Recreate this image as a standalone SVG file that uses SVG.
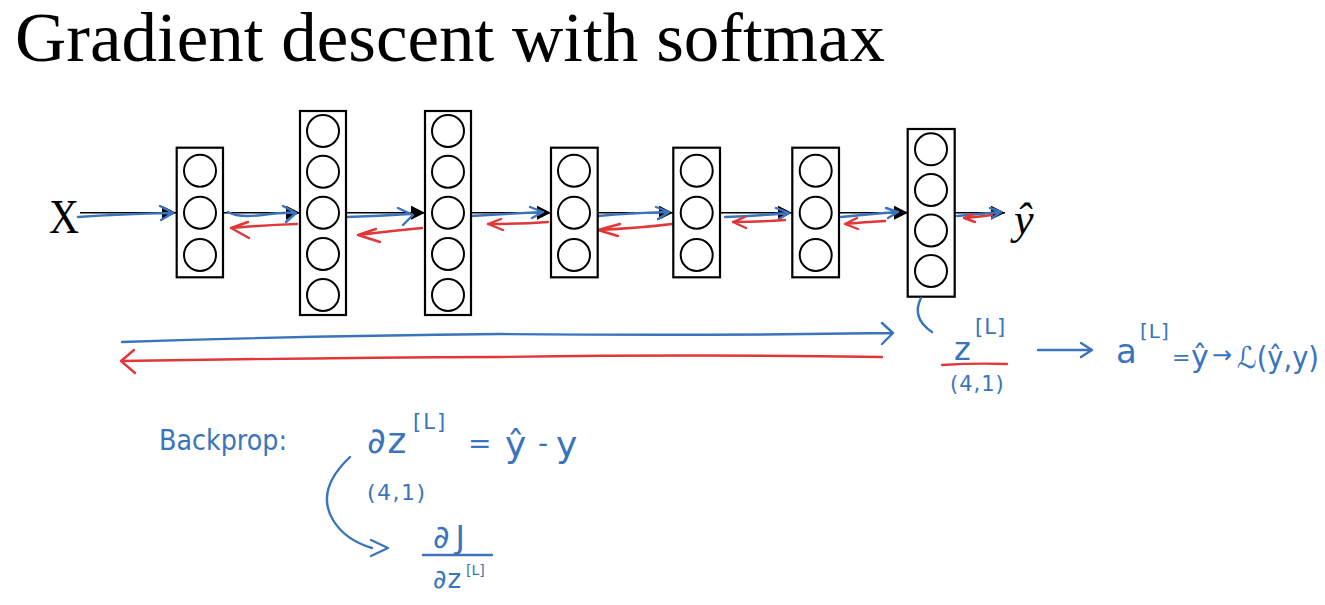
<svg xmlns="http://www.w3.org/2000/svg" width="1325" height="605" viewBox="0 0 1325 605">
<defs>
<style>
.box{fill:#fff;stroke:#000;stroke-width:2.2}
.nd{fill:#fff;stroke:#000;stroke-width:2}
.blk{stroke:#000;stroke-width:1.6;fill:none}
.bl{stroke:#3a74bd;stroke-width:2.4;fill:none;stroke-linecap:round;stroke-linejoin:round}
.rd{stroke:#e0383a;stroke-width:2.4;fill:none;stroke-linecap:round;stroke-linejoin:round}
.ser{font-family:"Liberation Serif","Times New Roman",serif;fill:#000}
.hw{font-family:"DejaVu Sans","Liberation Sans",sans-serif;fill:#3a74bd}
</style>
<marker id="ah" markerUnits="userSpaceOnUse" markerWidth="16" markerHeight="14" refX="14" refY="7" orient="auto">
<path d="M0,0 L14,7 L0,14 Z" fill="#000"/>
</marker>
</defs>
<rect width="1325" height="605" fill="#fff"/>
<text class="ser" x="15" y="61" font-size="70" textLength="870" lengthAdjust="spacingAndGlyphs">Gradient descent with softmax</text>

<g id="input"><text class="ser" x="49" y="233" font-size="48" textLength="30" lengthAdjust="spacingAndGlyphs">X</text></g>
<g id="output"><text class="ser" x="1014" y="234" font-size="44" font-style="italic">ŷ</text></g>

<g id="connectors">
<line class="blk" x1="80" y1="212.7" x2="176" y2="212.7" marker-end="url(#ah)"/>
<line class="blk" x1="223" y1="212.7" x2="300" y2="212.7" marker-end="url(#ah)"/>
<line class="blk" x1="346" y1="212.7" x2="425" y2="212.7" marker-end="url(#ah)"/>
<line class="blk" x1="471" y1="212.7" x2="551" y2="212.7" marker-end="url(#ah)"/>
<line class="blk" x1="598" y1="212.7" x2="673" y2="212.7" marker-end="url(#ah)"/>
<line class="blk" x1="720" y1="212.7" x2="792" y2="212.7" marker-end="url(#ah)"/>
<line class="blk" x1="839" y1="212.7" x2="908" y2="212.7" marker-end="url(#ah)"/>
<line class="blk" x1="955" y1="212.7" x2="1005" y2="212.7" marker-end="url(#ah)"/>
</g>

<g id="forward-strokes">
<path class="bl" d="M78,217 Q120,214 172,213 M160,206 L173,213 L161,220"/>
<path class="bl" d="M228,212 Q238,218 262,215 Q285,212 295,213 M283,206 L296,213 L286,222"/>
<path class="bl" d="M347,217 Q380,216 410,214 M398,208 L413,215 L403,225"/>
<path class="bl" d="M471,216 Q505,214 542,212 M530,207 L543,212 L532,218"/>
<path class="bl" d="M598,216 Q630,213 668,212 M656,207 L669,212 L658,219"/>
<path class="bl" d="M725,217 Q755,216 788,213 M776,208 L789,213 L779,219"/>
<path class="bl" d="M841,217 Q870,214 897,212 M886,208 L898,212 L888,218"/>
<path class="bl" d="M957,216 Q980,214 1000,212 M990,208 L1001,212 L992,218"/>
</g>

<g id="backward-strokes">
<path class="rd" d="M297,224 Q265,225 231,228 M248,222 L231,228 L249,238"/>
<path class="rd" d="M422,228 Q390,231 358,235 M376,229 L358,235 L380,242"/>
<path class="rd" d="M548,222 Q520,224 488,224 M501,219 L488,224 L503,230"/>
<path class="rd" d="M672,224 Q640,228 598,230 M620,224 L598,230 L618,236"/>
<path class="rd" d="M785,220 Q760,222 733,222 M745,217 L733,222 L746,228"/>
<path class="rd" d="M885,221 Q865,222 845,224 M857,218 L845,224 L858,229"/>
<path class="rd" d="M992,215 Q978,217 964,218 M973,214 L964,218 L975,222"/>
</g>

<g id="layer1">
<rect class="box" x="176.7" y="147.7" width="46.3" height="129.6"/>
<circle class="nd" cx="200" cy="170.7" r="16"/>
<circle class="nd" cx="200" cy="212.7" r="16"/>
<circle class="nd" cx="200" cy="255" r="16"/>
</g>
<g id="layer2">
<rect class="box" x="300" y="111" width="46" height="204"/>
<circle class="nd" cx="323" cy="131" r="16"/>
<circle class="nd" cx="323" cy="171.7" r="16"/>
<circle class="nd" cx="323" cy="212.7" r="16"/>
<circle class="nd" cx="323" cy="254" r="16"/>
<circle class="nd" cx="323" cy="295" r="16"/>
</g>
<g id="layer3">
<rect class="box" x="425" y="111" width="46" height="204"/>
<circle class="nd" cx="448" cy="131" r="16"/>
<circle class="nd" cx="448" cy="171.7" r="16"/>
<circle class="nd" cx="448" cy="212.7" r="16"/>
<circle class="nd" cx="448" cy="254" r="16"/>
<circle class="nd" cx="448" cy="295" r="16"/>
</g>
<g id="layer4">
<rect class="box" x="551" y="147.7" width="46.7" height="129.6"/>
<circle class="nd" cx="574" cy="170.7" r="16"/>
<circle class="nd" cx="574" cy="212.7" r="16"/>
<circle class="nd" cx="574" cy="255" r="16"/>
</g>
<g id="layer5">
<rect class="box" x="673.3" y="147.7" width="46.7" height="129.6"/>
<circle class="nd" cx="696.7" cy="170.7" r="16"/>
<circle class="nd" cx="696.7" cy="212.7" r="16"/>
<circle class="nd" cx="696.7" cy="255" r="16"/>
</g>
<g id="layer6">
<rect class="box" x="792.3" y="147.7" width="46.7" height="129.6"/>
<circle class="nd" cx="815.7" cy="170.7" r="16"/>
<circle class="nd" cx="815.7" cy="212.7" r="16"/>
<circle class="nd" cx="815.7" cy="255" r="16"/>
</g>
<g id="layer7">
<rect class="box" x="907.7" y="129" width="47" height="167.7"/>
<circle class="nd" cx="931" cy="149.3" r="16"/>
<circle class="nd" cx="931" cy="190" r="16"/>
<circle class="nd" cx="931" cy="230.5" r="16"/>
<circle class="nd" cx="931" cy="271" r="16"/>
</g>

<g id="forward-pass">
<path class="bl" d="M122,342 Q300,336 500,334 Q700,336 891,333 M882,323 L893,333 L882,344"/>
</g>
<g id="backward-pass">
<path class="rd" d="M882,357 Q700,354 500,357 Q300,358 122,361 M134,350 L121,361 L135,373"/>
</g>

<g id="output-annotation">
<path class="bl" d="M921,298 Q911,318 932,332"/>
<text class="hw" x="954" y="360" font-size="32">z</text>
<text class="hw" x="975" y="334" font-size="21" letter-spacing="1">[L]</text>
<path class="rd" d="M942,365 Q975,363 1007,364"/>
<text class="hw" x="950" y="391" font-size="21" letter-spacing="1">(4,1)</text>
<path class="bl" d="M1038,350 L1091,350 M1081,343 L1092,350 L1081,357"/>
<text class="hw" x="1116" y="363" font-size="34">a</text>
<text class="hw" x="1140" y="338" font-size="20" letter-spacing="1">[L]</text>
<text class="hw" x="1172" y="365" font-size="22">=</text>
<text class="hw" x="1191" y="367" font-size="30">ŷ</text>
<text class="hw" x="1212" y="363" font-size="24">→</text>
<text class="hw" x="1237" y="368" font-size="30" textLength="82" lengthAdjust="spacingAndGlyphs">ℒ(ŷ,y)</text>
</g>

<g id="backprop-annotation">
<text class="hw" x="159" y="450" font-size="28" textLength="128" lengthAdjust="spacingAndGlyphs">Backprop:</text>
<text class="hw" x="367" y="453" font-size="36" letter-spacing="2">∂z</text>
<text class="hw" x="413" y="429" font-size="21" letter-spacing="2">[L]</text>
<text class="hw" x="468" y="453" font-size="28">=</text>
<text class="hw" x="505" y="457" font-size="36">ŷ</text>
<text class="hw" x="538" y="453" font-size="28">-</text>
<text class="hw" x="556" y="457" font-size="36">y</text>
<text class="hw" x="367" y="500" font-size="22" letter-spacing="1.5">(4,1)</text>
<path class="bl" d="M350,457 Q315,490 333,520 Q345,540 372,548 M371,540 L388,548 L371,556"/>
<text class="hw" x="433" y="548" font-size="32" letter-spacing="6">∂J</text>
<path class="bl" d="M423,555 L492,555"/>
<text class="hw" x="433" y="588" font-size="26" letter-spacing="1">∂z</text>
<text class="hw" x="466" y="575" font-size="14">[L]</text>
</g>
</svg>
